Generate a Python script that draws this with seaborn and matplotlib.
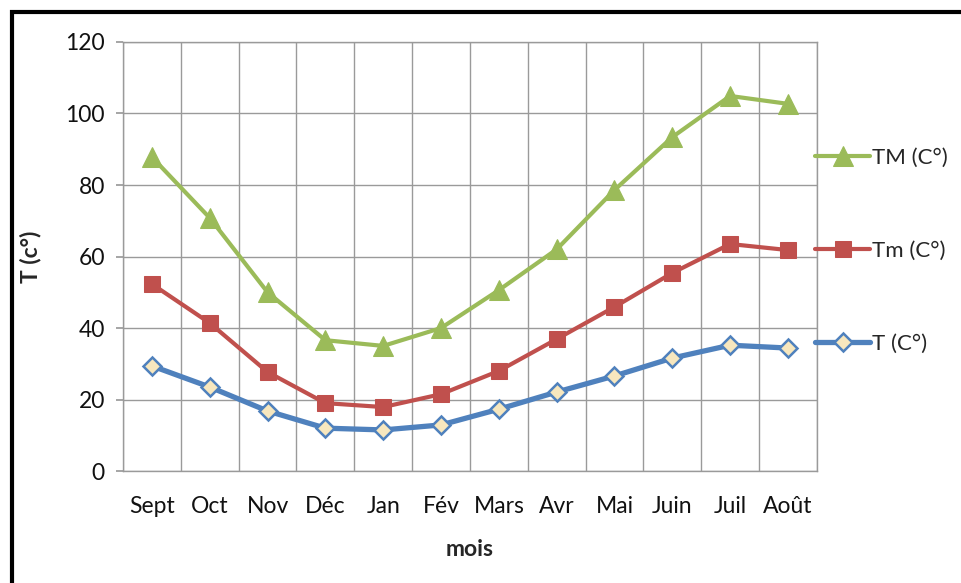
import numpy as np
import pandas as pd
import matplotlib
matplotlib.use('Agg')
import matplotlib.pyplot as plt
import seaborn as sns
from matplotlib.patches import Rectangle

# data
months = ['Sept', 'Oct', 'Nov', 'Déc', 'Jan', 'Fév', 'Mars', 'Avr', 'Mai', 'Juin', 'Juil', 'Août']
tm_max = [87.8, 70.8, 50.0, 36.6, 35.0, 40.0, 50.6, 62.0, 78.6, 93.4, 104.9, 102.7]
tm_min = [52.3, 41.4, 27.7, 19.0, 17.9, 21.5, 28.0, 36.9, 45.9, 55.4, 63.5, 61.8]
t_mean = [29.4, 23.5, 16.8, 12.0, 11.5, 12.9, 17.3, 22.1, 26.6, 31.6, 35.2, 34.4]
y_ticks = [0, 20, 40, 60, 80, 100, 120]

sns.set_theme(style='white')
plt.rcParams['font.family'] = ['Lato', 'DejaVu Sans']

fig = plt.figure(figsize=(9.61, 5.83), dpi=100)
ax = fig.add_axes([0.128, 0.192, 0.722, 0.736])

x = np.arange(len(months))
df = pd.DataFrame({'x': x, 'TM': tm_max, 'Tm': tm_min, 'T': t_mean})

sns.lineplot(data=df, x='x', y='TM', ax=ax, color='#9BBB59', lw=3,
             marker='^', markersize=14, markeredgecolor='#9BBB59',
             label='TM (C°)')
sns.lineplot(data=df, x='x', y='Tm', ax=ax, color='#C0504D', lw=3,
             marker='s', markersize=12, markeredgecolor='#C0504D',
             label='Tm (C°)')
sns.lineplot(data=df, x='x', y='T', ax=ax, color='#4F81BD', lw=3.8,
             marker='D', markersize=9, markerfacecolor='#F7E7BE',
             markeredgecolor='#4F81BD', markeredgewidth=1.8,
             label='T (C°)')

ax.set_xlim(-0.5, len(months) - 0.5)
ax.set_ylim(0, 120)
ax.set_yticks(y_ticks)
ax.set_xticks(x)
ax.set_xticklabels(months)
ax.set_xticks(np.arange(len(months) + 1) - 0.5, minor=True)

ax.grid(False)
ax.grid(True, which='major', axis='y', color='#9A9A9A', lw=1)
ax.grid(True, which='minor', axis='x', color='#9A9A9A', lw=1)
ax.set_axisbelow(True)
for side, sp in ax.spines.items():
    sp.set_color('#9A9A9A')
    sp.set_linewidth(1)
ax.tick_params(axis='x', which='both', length=0, labelsize=16.5, pad=18, colors='#111111')
ax.tick_params(axis='y', which='major', length=5, left=True, color='#9A9A9A',
               labelsize=16.5, pad=8, colors='#111111')

ax.set_xlabel('mois', fontsize=16.5, fontweight='bold', labelpad=16)
ax.set_ylabel('T (c°)', fontsize=16.5, fontweight='bold', labelpad=17)

leg = ax.legend(loc='upper left', bbox_to_anchor=(0.985, 0.773), frameon=False,
                fontsize=16, handlelength=2.45, handletextpad=0.1,
                labelspacing=3.28, borderaxespad=0)

# chart frame, cut off at right and bottom like the source
fig.patches.append(Rectangle((12 / 961, -0.1), 1.2, 1 - 12 / 583 + 0.1,
                             transform=fig.transFigure, fill=False,
                             edgecolor='black', lw=3))

fig.savefig('out.png', dpi=100)
